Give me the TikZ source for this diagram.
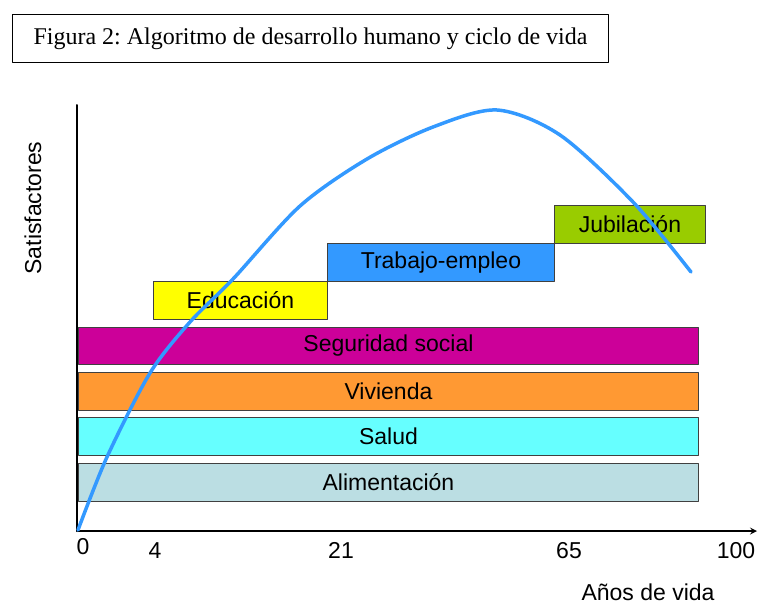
\documentclass[tikz,border=0pt]{standalone}
\usepackage{fontspec}
\setmainfont{Liberation Sans}
\newfontfamily\tituloFont{Liberation Serif}
\usetikzlibrary{positioning}
\definecolor{alimC}{HTML}{BBDEE3}
\definecolor{saludC}{HTML}{66FFFF}
\definecolor{viviendaC}{HTML}{FF9933}
\definecolor{seguridadC}{HTML}{CC0099}
\definecolor{educacionC}{HTML}{FFFF00}
\definecolor{trabajoC}{HTML}{3399FF}
\definecolor{jubilacionC}{HTML}{99CC00}
\definecolor{curvaC}{HTML}{3399FF}
\frenchspacing
\begin{document}
\begin{tikzpicture}[x=1pt,y=-1pt,line join=round,line cap=round,>=stealth,font=\fontsize{23}{26}\selectfont]
	\tikzset{barra/.style={draw=black!75,line width=0.9pt,inner sep=0pt,minimum height=38pt,anchor=north west}}
	\tikzset{larga/.style={barra,minimum width=620pt}}
	\tikzset{etiq/.style={anchor=base,inner sep=0pt}}
	\useasboundingbox (0,0) rectangle (759,605);
	% titulo
	\node[draw,line width=1pt,minimum width=596pt,minimum height=48pt,anchor=north west,
		font=\tituloFont\fontsize{24}{28}\selectfont] (titulo) at (12,14) {Figura 2: Algoritmo de desarrollo humano y ciclo de vida};
	% barras
	\node[larga,fill=alimC] (alim) at (78,463) {Alimentaci\'on};
	\node[larga,fill=saludC] (salud) at (78,417) {Salud};
	\node[larga,fill=viviendaC] (vivienda) at (78,372) {Vivienda};
	\node[larga,fill=seguridadC,minimum height=37pt] (seguridad) at (78,327) {Seguridad social};
	\node[barra,fill=educacionC,minimum width=174pt] (educacion) at (153,281) {Educaci\'on};
	\node[barra,fill=trabajoC,minimum width=227pt] (trabajo) at (327,243) {Trabajo-empleo};
	\node[barra,fill=jubilacionC,minimum width=151pt] (jubilacion) at (554,205) {Jubilaci\'on};
	% ejes
	\draw[line width=2pt] (77,105)--(77,531);
	\draw[->,line width=2pt] (77,531)--(757,531);
	% curva
	\draw[curvaC,line width=3.5pt,smooth] plot coordinates {(78,530) (107,457) (150,373)
		(190,322) (233,279) (300,206) (367,159) (433,127) (497,110) (560,135) (633,202) (691,272)};
	% rotulos
	\node[rotate=90] (satisf) at (33,208) {Satisfactores};
	\node[etiq] (t0) at (83,554) {0};
	\node[etiq] (t4) at (155,558) {4};
	\node[etiq] (t21) at (341,558) {21};
	\node[etiq] (t65) at (569,558) {65};
	\node[etiq] (t100) at (736,558) {100};
	\node[etiq] (anios) at (648,600) {A\~nos de vida};
\end{tikzpicture}
\end{document}
